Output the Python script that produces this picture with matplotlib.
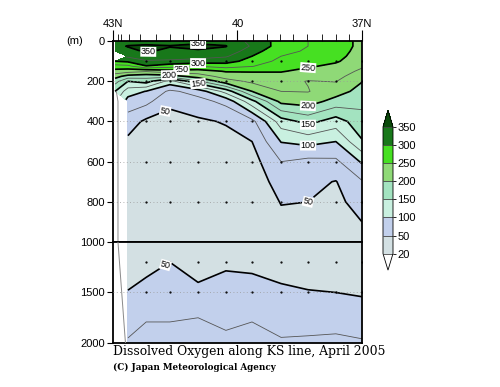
import numpy as np
import matplotlib
matplotlib.use("Agg")
import matplotlib.pyplot as plt
from matplotlib.colors import ListedColormap, BoundaryNorm

# -------------------
# data: dissolved oxygen along the KS line (station latitude x depth)
# -------------------
lats = [42.95, 42.64, 42.20, 41.63, 40.95, 40.28, 39.65, 38.95, 38.30, 37.63, 37.00]
depths = [0, 25, 50, 75, 100, 125, 150, 175, 200, 250, 300, 400, 500, 600,
          700, 800, 900, 1000, 1200, 1500, 1750, 2000]

nan = np.nan
st_coast = [335, 345, 330, nan, 300, 265, 240, 210, 185, 150, nan, nan, nan, nan,
            nan, nan, nan, nan, nan, nan, nan, nan]
st_4264 = [342, 351, 345, 330, 305, 268, 235, 190, 150, 112, 90, 62, 45, 38,
           35, 33, 32, 33, 38, 51, 63, 78]
st_4220 = [342, 353, 352, 340, 322, 298, 228, 185, 160, 99, 82, 45, 38, 35,
           33, 32, 32, 33, 42, 58, 74, 80]
st_4163 = [342, 351, 346, 338, 320, 285, 240, 188, 115, 70, 55, 42, 36, 34,
           33, 32, 33, 36, 50, 62, 74, 80]
st_4095 = [345, 354, 348, 335, 315, 275, 238, 212, 170, 85, 66, 46, 38, 35,
           33, 32, 32, 33, 40, 55, 75, 79]
st_4028 = [342, 351, 343, 328, 310, 285, 252, 235, 215, 135, 82, 52, 42, 37,
           34, 33, 33, 34, 46, 60, 72, 78]
st_3965 = [318, 322, 310, 300, 290, 276, 252, 240, 230, 200, 142, 67, 50, 40,
           36, 34, 33, 34, 44, 60, 74, 80]
st_3895 = [290, 288, 282, 275, 268, 260, 252, 240, 232, 225, 207, 138, 101, 75,
           60, 51, 45, 40, 38, 55, 68, 77]
st_3830 = [275, 275, 272, 268, 262, 253, 242, 232, 224, 226, 212, 158, 108, 68,
           56, 50, 45, 42, 40, 51, 65, 79]
st_3763 = [265, 265, 262, 258, 253, 244, 238, 232, 226, 212, 190, 138, 100, 70,
           49, 44, 41, 39, 38, 50, 68, 79]
st_3700 = [242, 242, 240, 238, 235, 228, 220, 212, 201, 190, 182, 165, 148, 103,
           73, 60, 50, 46, 42, 48, 60, 78]

levels = [20, 50, 100, 150, 200, 250, 300, 350]
thin_levels = [75, 125, 175, 225, 275, 325]
fill_colors = ['#d3e0e3', '#c2d0ec', '#c9f0e0', '#a3e3c0', '#8fd977', '#46e022', '#18781a']

# station ticks on the top axis and sampling depths (dots)
tick_lats = [42.89, 42.81, 42.61, 42.35, 41.96, 41.63, 41.31, 40.95, 40.61, 40.28,
             39.63, 39.29, 38.98, 38.67, 38.33, 37.97, 37.63, 37.31]
sample_depths = [100, 200, 400, 600, 800, 1200, 1500]
bottom_lat = [42.92, 42.88, 42.88, 42.70]
bottom_depth = [250, 300, 1000, 2000]

# -------------------
# grid
# -------------------
Z = np.ma.masked_invalid(np.array([st_coast, st_4264, st_4220, st_4163, st_4095, st_4028,
                                   st_3965, st_3895, st_3830, st_3763, st_3700]).T)
X, Y = np.meshgrid(lats, depths)

cmap = ListedColormap(fill_colors)
cmap.set_under('white')
cmap.set_over('#0a4a0a')
norm = BoundaryNorm(levels, cmap.N)

plt.rcParams['font.family'] = ['Liberation Sans', 'DejaVu Sans']

fig = plt.figure(figsize=(5, 3.87), dpi=100)
ax1 = fig.add_axes([0.226, 0.3747, 0.498, 0.519])
ax2 = fig.add_axes([0.226, 0.1137, 0.498, 0.261])

for ax in (ax1, ax2):
    cf = ax.contourf(X, Y, Z, levels=levels, cmap=cmap, norm=norm, extend='both')
    ax.contour(X, Y, Z, levels=thin_levels, colors='#555555', linewidths=0.6)
    ax.set_xlim(43, 37)
    for d in [200, 400, 600, 800, 1500]:
        ax.axhline(d, color='#9a9a9a', lw=0.6, ls=(0, (1, 3)), zorder=3)
    for la in lats[2:]:
        ax.plot([la] * len(sample_depths), sample_depths, 'k.', ms=1.2, zorder=4)
    ax.plot(bottom_lat, bottom_depth, color='#8a8a8a', lw=0.7, zorder=4)
    for s in ax.spines.values():
        s.set_linewidth(1.3)

# thick lines + labels
cs1 = ax1.contour(X, Y, Z, levels=levels[1:], colors='k', linewidths=1.2)
cs2 = ax2.contour(X, Y, Z, levels=levels[1:], colors='k', linewidths=1.2)
lab_up = [(42.15, 45), (40.95, 20), (40.95, 112), (41.35, 140), (41.65, 169),
          (40.95, 215), (41.75, 330), (38.3, 134), (38.3, 335), (38.3, 412),
          (38.3, 522), (38.3, 810)]
t1 = ax1.clabel(cs1, fmt='%d', fontsize=6.5, manual=lab_up, inline=True, inline_spacing=1)
t2 = ax2.clabel(cs2, fmt='%d', fontsize=6.5, manual=[(41.75, 1190)], inline=True, inline_spacing=1)
for t in list(t1) + list(t2):
    t.set_bbox(dict(facecolor='white', edgecolor='none', pad=0.3))

# axes: upper
ax1.set_ylim(1000, 0)
ax1.set_yticks([0, 200, 400, 600, 800, 1000])
ax1.xaxis.tick_top()
ax1.set_xticks([43, 40, 37])
ax1.set_xticklabels(['43N', '40', '37N'])
ax1.set_xticks(tick_lats, minor=True)
ax1.tick_params(axis='x', which='major', length=8, width=0.8, labelsize=8, pad=1)
ax1.tick_params(axis='x', which='minor', length=5, width=0.6)
ax1.tick_params(axis='y', length=4, width=0.8, labelsize=8, pad=2)

# axes: lower
ax2.set_ylim(2000, 1000)
ax2.set_yticks([1500, 2000])
ax2.set_xticks([])
ax2.tick_params(axis='y', length=4, width=0.8, labelsize=8, pad=2)

fig.text(0.15, 0.893, '(m)', fontsize=8, ha='center', va='center')

# colorbar
cax = fig.add_axes([0.766, 0.302, 0.02, 0.413])
cb = fig.colorbar(cf, cax=cax, extendfrac=0.13, drawedges=True, spacing='uniform')
cb.set_ticks(levels)
cb.ax.tick_params(labelsize=8, length=2, width=0.6, pad=1)
cb.outline.set_linewidth(0.6)
cb.dividers.set_linewidth(0.6)
cb.dividers.set_color('#444444')

fig.text(0.226, 0.091, 'Dissolved Oxygen along KS line, April 2005',
         family='DejaVu Serif', fontsize=8.9, va='center')
fig.text(0.226, 0.051, '(C) Japan Meteorological Agency',
         family='DejaVu Serif', fontsize=6.3, fontweight='bold', va='center')

fig.savefig('out.png', dpi=100)
